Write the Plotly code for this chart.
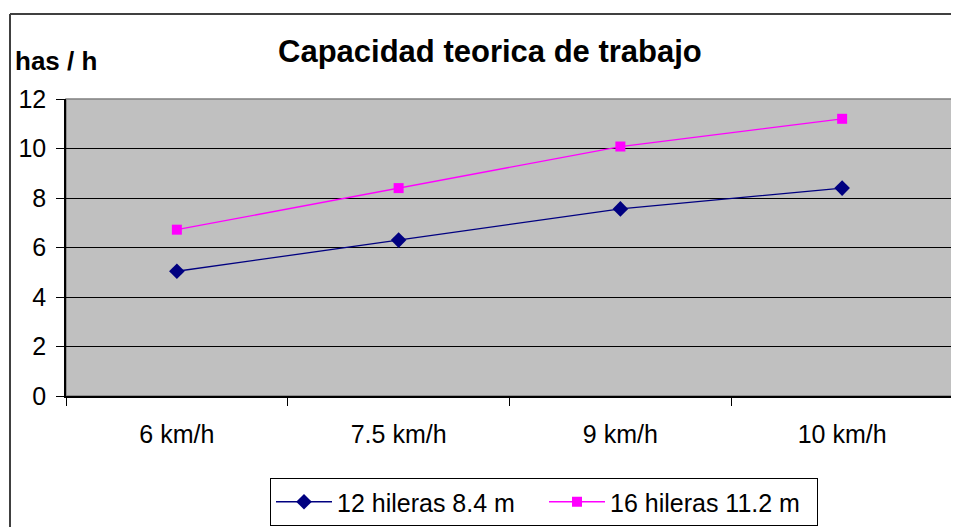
import plotly.graph_objects as go

categories = ["6 km/h", "7.5 km/h", "9 km/h", "10 km/h"]
serie_12 = [5.04, 6.3, 7.56, 8.4]
serie_16 = [6.72, 8.4, 10.08, 11.2]
name_12 = "12 hileras 8.4 m"
name_16 = "16 hileras 11.2 m"
y_ticks = [0, 2, 4, 6, 8, 10, 12]

# page body has an 8px default margin; lay out in reference-pixel coords
OFF = 8
W, H = 959 - OFF, 527 - OFF
L, R, T, B = 66 - OFF, 6, 99 - OFF, 131
pw = W - L - R
ph = H - T - B

def px(x):
    return (x - OFF - L) / pw

def py(y):
    return (H - B - (y - OFF)) / ph

FONT = "Arial, Liberation Sans, sans-serif"

fig = go.Figure()
fig.add_trace(go.Scatter(
    x=categories, y=serie_12, name=name_12, mode="lines+markers",
    line=dict(color="#000080", width=1.3),
    marker=dict(symbol="diamond", size=12, color="#000080"),
))
fig.add_trace(go.Scatter(
    x=categories, y=serie_16, name=name_16, mode="lines+markers",
    line=dict(color="#FF00FF", width=1.3),
    marker=dict(symbol="square", size=10, color="#FF00FF"),
))

fig.update_layout(
    width=W, height=H,
    margin=dict(l=L, r=R, t=T, b=B, autoexpand=False),
    paper_bgcolor="white",
    plot_bgcolor="#C0C0C0",
    font=dict(family=FONT, size=25, color="black"),
    showlegend=True,
    legend=dict(
        orientation="h", x=px(270), y=py(478), xanchor="left", yanchor="top",
        bordercolor="black", borderwidth=1, bgcolor="white",
        font=dict(size=25), itemwidth=56, tracegroupgap=0,
        entrywidth=202, entrywidthmode="pixels",
    ),
    xaxis=dict(
        type="category", tickson="boundaries", ticks="outside", ticklen=8,
        tickcolor="black", showline=True, linecolor="black", linewidth=1.5,
        showgrid=False, ticklabelstandoff=15, range=[-0.5, 3.5],
        tickfont=dict(size=25), automargin=False,
    ),
    yaxis=dict(
        range=[0, 12], tickvals=y_ticks, ticks="outside", ticklen=8,
        tickcolor="black", showline=True, linecolor="black", linewidth=1.5,
        showgrid=True, gridcolor="black", gridwidth=1.3, zeroline=False,
        ticklabelstandoff=5, tickfont=dict(size=25), automargin=False,
    ),
    shapes=[
        dict(type="rect", xref="paper", yref="paper", x0=0, x1=1, y0=0, y1=1,
             line=dict(color="#808080", width=1.5), layer="below"),
        dict(type="line", xref="paper", yref="paper", x0=px(10), x1=px(1000),
             y0=py(14), y1=py(14), line=dict(color="#404040", width=2),
             layer="below"),
        dict(type="line", xref="paper", yref="paper", x0=px(10), x1=px(10),
             y0=py(14), y1=py(600), line=dict(color="#404040", width=2),
             layer="below"),
    ],
    annotations=[
        dict(text="<b>Capacidad teorica de trabajo</b>", xref="paper", yref="paper",
             x=px(490), y=py(52), xanchor="center", yanchor="middle",
             showarrow=False, font=dict(size=31)),
        dict(text="<b>has / h</b>", xref="paper", yref="paper",
             x=px(13), y=py(61), xanchor="left", yanchor="middle",
             showarrow=False, font=dict(size=26)),
    ],
)

fig.write_html(
    "out.html",
    post_script="document.documentElement.style.overflow='hidden';"
                "document.body.style.overflow='hidden';",
)
